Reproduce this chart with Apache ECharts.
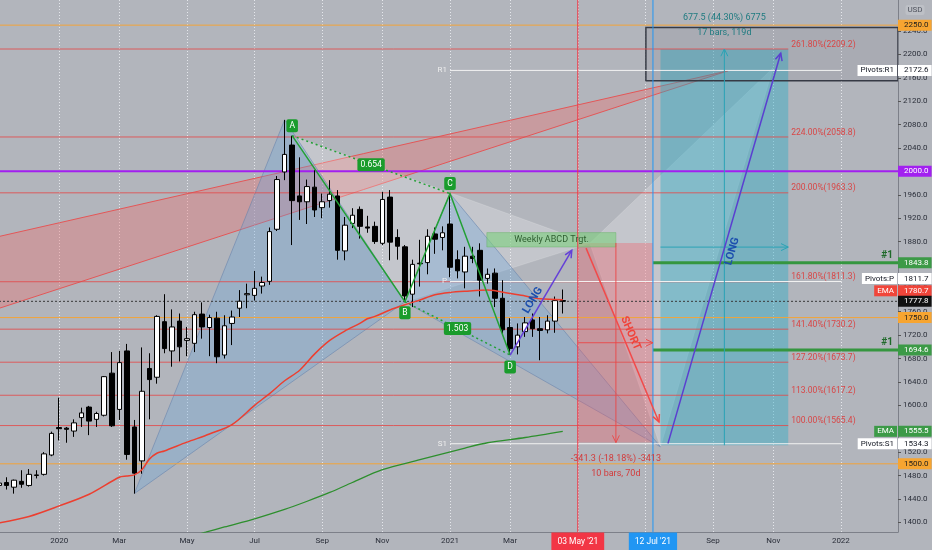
<!DOCTYPE html>
<html><head><meta charset="utf-8">
<script src="https://cdn.jsdelivr.net/npm/echarts@6/dist/echarts.min.js"></script>
<style>html,body{margin:0;padding:0;background:#b2b5bc;}#c{width:932px;height:550px;}</style>
</head><body><div id="c"></div>
<script>
// ---------- data (weeks counted from the week of 2020-01-06) ----------
const firstWeek = -8;
// [open, close, low, high] per weekly bar
const candles = [
[1463,1467,1457,1473],[1468,1463,1456,1477],[1460,1472,1449,1473],[1470,1465,1459,1489],
[1463,1482,1461,1491],[1480,1481,1475,1489],[1482,1517,1480,1520],[1515,1552,1513,1555],
[1562,1560,1540,1613],[1561,1559,1536,1563],[1556,1570,1546,1576],[1579,1587,1563,1596],
[1597,1573,1549,1599],[1576,1586,1563,1589],[1583,1649,1581,1650],[1655,1565,1563,1691],
[1593,1673,1575,1693],[1693,1516,1507,1705],[1563,1484,1449,1575],[1505,1624,1483,1699],
[1663,1644,1576,1689],[1648,1752,1637,1754],[1743,1697,1689,1790],[1693,1734,1666,1764],
[1744,1700,1675,1757],[1711,1714,1684,1734],[1706,1755,1691,1760],[1756,1734,1714,1776],
[1733,1750,1684,1755],[1749,1683,1672,1760],[1686,1736,1680,1754],[1740,1751,1703,1762],
[1766,1778,1751,1797],[1789,1791,1766,1808],[1788,1800,1779,1830],[1804,1810,1791,1820],
[1812,1897,1806,1904],[1901,1986,1898,1992],[1999,2029,1985,2088],[2045,1950,1874,2061],
[1958,1948,1917,2024],[1948,1974,1910,1986],[1973,1934,1922,2002],[1938,1948,1920,1962],
[1950,1961,1938,1985],[1958,1865,1849,1968],[1864,1908,1848,1922],[1911,1925,1903,1937],
[1935,1906,1885,1940],[1905,1903,1895,1924],[1906,1880,1876,1914],[1877,1952,1874,1965],
[1956,1879,1848,1968],[1887,1872,1849,1901],[1871,1787,1777,1874],[1790,1841,1768,1849],
[1843,1842,1803,1883],[1844,1889,1824,1901],[1893,1884,1859,1904],[1887,1895,1865,1906],
[1910,1836,1819,1962],[1849,1830,1817,1865],[1828,1855,1800,1871],[1855,1851,1843,1871],
[1865,1814,1786,1877],[1817,1824,1808,1834],[1826,1783,1768,1834],[1783,1729,1720,1814],
[1733,1697,1686,1749],[1700,1720,1687,1740],[1726,1741,1717,1751],[1746,1731,1717,1757],
[1731,1728,1677,1751],[1729,1744,1723,1754],[1744,1779,1724,1786],[1779,1778,1757,1798]
];
const emaRedWeeks = [-8,-4,0,4,8,9,10,11,12,13,14,17,20,23,26,28,30,32,34,36,38,40,41,42,44,46,47,48,50,52,54,57,60,62,64,67];
const emaRedVals  = [1399,1410,1428,1448,1477,1479,1481,1490,1508,1518,1522,1537,1551,1567,1600,1620,1642,1660,1688,1711,1727,1740,1748,1752,1763,1772,1776,1780,1789,1793,1795,1797,1791,1787,1782,1780.7];
const emaGreenWeeks = [17.5,19.5,22,26,30,33,36,39,43,48,54,57,62,67];
const emaGreenVals  = [1376,1383,1392,1406,1422,1436,1451,1468,1490,1507,1527,1536,1545,1555.5];
const xTickWeeks  = [0,8,17,26,35,43,52,60,69,78,87,95,104];
const xTickLabels = ['2020','Mar','May','Jul','Sep','Nov','2021','Mar','May','Jul','Sep','Nov','2022'];
const xLabelWeeks = [0,8,17,26,35,43,52,60,87,95,104];
const yTicks = [1400,1440,1480,1520,1560,1600,1640,1680,1720,1760,1800,1840,1880,1920,1960,2000,2040,2080,2120,2160,2200,2240];
const fibLevels = [2209.2,2058.8,1963.3,1811.3,1730.2,1673.7,1617.2,1565.4];
const fibPct    = ['261.80%','224.00%','200.00%','161.80%','141.40%','127.20%','113.00%','100.00%'];
const pivotNames = ['R1','P','S1'];
const pivotVals  = [2172.6,1811.7,1534.3];
const roundLevels = [2250,1750,1500];
const purpleLevel = 2000;
const targetLevels = [1843.8,1694.6];
const lastPrice = 1777.8;
const emaRedLast = 1780.7, emaGreenLast = 1555.5;
// pattern points [week, price]
const ptA=[31,2061], ptB=[46,1777], ptC=[52,1962], ptD=[60,1686];
const ptX=[10,1449], ptA2=[30,2088], ptD2=[80,1529];
const ptT=[70.6,1877], ptW=[95,2177];
const shortRange = {w0:69, w1:79, top:1877.6, bot:1536.3};
const longRange  = {w0:80, w1:97, top:2209.2, bot:1531.7};
const dateMarks = [{w:69, text:"03 May '21", color:'#f23645'},{w:79, text:"12 Jul '21", color:'#2196f3'}];

const X_MIN=-8, X_MAX=111.6, Y_MIN=1383.4, Y_MAX=2293;
const FONT='Roboto, "Liberation Sans", sans-serif';

// ---------- shapes ----------
const polys = [
 {pts:[[-12,1877],[89,2172],[-12,1749]], fill:'rgba(240,105,105,0.35)', stroke:'rgba(232,78,78,0.9)', lw:1},
 {pts:[ptA,ptB,ptT], fill:'rgba(255,255,255,0.24)', stroke:'rgba(255,255,255,0.25)', lw:0.6},
 {pts:[ptT,ptD2,ptW], fill:'rgba(255,255,255,0.24)', stroke:'rgba(255,255,255,0.25)', lw:0.6},
 {pts:[ptX,ptA2,ptB], fill:'rgba(105,165,220,0.32)', stroke:'rgba(100,130,170,0.7)', lw:0.8},
 {pts:[ptB,ptC,ptD2], fill:'rgba(105,165,220,0.32)', stroke:'rgba(100,130,170,0.7)', lw:0.8},
 {pts:[[shortRange.w0,shortRange.top],[shortRange.w1,shortRange.top],[shortRange.w1,shortRange.bot],[shortRange.w0,shortRange.bot]], fill:'rgba(245,85,95,0.32)', stroke:'none', lw:0},
 {pts:[[longRange.w0,longRange.top],[longRange.w1,longRange.top],[longRange.w1,longRange.bot],[longRange.w0,longRange.bot]], fill:'rgba(40,172,198,0.42)', stroke:'none', lw:0},
 {pts:[[56.9,1895.3],[74.07,1895.3],[74.07,1870.7],[56.9,1870.7]], fill:'rgba(125,208,125,0.6)', stroke:'rgba(90,170,90,0.6)', lw:0.6},
 {pts:[[78.06,2246],[X_MAX,2246],[X_MAX,2155],[78.06,2155]], fill:'rgba(70,70,80,0.08)', stroke:'#363a45', lw:1.5}
];

const hlines = [];
roundLevels.forEach(v=>hlines.push({pts:[[X_MIN,v],[X_MAX,v]], color:'#f2a43a', w:1}));
fibLevels.forEach(v=>hlines.push({pts:[[X_MIN,v],[longRange.w1,v]], color:'rgba(226,76,76,0.85)', w:1}));
pivotVals.forEach(v=>hlines.push({pts:[[52,v],[104.1,v]], color:'#f2f2f2', w:1}));
hlines.push({pts:[[X_MIN,purpleLevel],[X_MAX,purpleLevel]], color:'#a21ff0', w:2});
targetLevels.forEach(v=>hlines.push({pts:[[79,v],[X_MAX,v]], color:'#35963f', w:3}));
hlines.push({pts:[[X_MIN,lastPrice],[X_MAX,lastPrice]], color:'#3a3a3a', w:1, dash:[2,2]});
dateMarks.forEach(d=>hlines.push({pts:[[d.w,Y_MIN],[d.w,Y_MAX]], color:d.color, w:1}));

const plines = [
 {pts:[ptA,ptB,ptC,ptD], color:'#22a035', w:1.5},
 {pts:[ptA,ptC], color:'#22a035', w:1.5, dash:[2,3]},
 {pts:[ptB,ptD], color:'#22a035', w:1.5, dash:[2,3]},
 {pts:[[74.07,shortRange.top],[74.07,shortRange.bot]], color:'rgba(235,70,70,0.9)', w:1, arrow:true},
 {pts:[[shortRange.w0,1707],[shortRange.w1,1707]], color:'rgba(235,70,70,0.9)', w:1, arrow:true},
 {pts:[[88.5,longRange.bot],[88.5,longRange.top]], color:'#2aa3b5', w:1, arrow:true},
 {pts:[[longRange.w0,1870.5],[longRange.w1,1870.5]], color:'#2aa3b5', w:1, arrow:true},
 {pts:[ptD,[68.2,1865]], color:'#6440d8', w:1.5, arrow:true},
 {pts:[[70.1,1868.8],[79.8,1571.6]], color:'#f24a4a', w:1.5, arrow:true},
 {pts:[[81,1535],[96,2202]], color:'#5a3fd0', w:1.5, arrow:true}
];

// ---------- texts ----------
const labels = [];
const annot = (at,text,o)=>labels.push(Object.assign({at,text,align:'center',va:'middle',dx:0,dy:0,color:'#222',font:'9px '+FONT},o));
annot([88.5,longRange.top],'677.5 (44.30%) 6775',{dy:-31,color:'#1f7b80'});
annot([88.5,longRange.top],'17 bars, 119d',{dy:-16,color:'#1f7b80'});
annot([74.07,shortRange.bot],'-341.3 (-18.18%) -3413',{dy:16,color:'#d33a3a'});
annot([74.07,shortRange.bot],'10 bars, 70d',{dy:31.5,color:'#d33a3a'});
fibLevels.forEach((v,i)=>annot([longRange.w1,v],fibPct[i]+'('+v.toFixed(1)+')',{align:'left',va:'bottom',dx:3,dy:0,color:'#d94646',font:'8.5px '+FONT}));
pivotVals.forEach((v,i)=>annot([52,v],pivotNames[i],{align:'right',dx:-3,color:'#eeeeee',font:'8px '+FONT}));
targetLevels.forEach(v=>annot([X_MAX,v],'#1',{align:'right',va:'bottom',dx:-5,dy:-2,color:'#1f6a2a',font:'bold 10px '+FONT}));
annot([65.5,1883],'Weekly ABCD Trgt.',{color:'#2e5e30',font:'9px '+FONT});
const gBox = {bg:'#1a9c2c',color:'#ffffff',pad:[2,3],radius:2,font:'8.5px '+FONT};
annot(ptA,'A',Object.assign({dy:-10},gBox));
annot(ptB,'B',Object.assign({dy:11},gBox));
annot(ptC,'C',Object.assign({dy:-10},gBox));
annot(ptD,'D',Object.assign({dy:12},gBox));
annot([(ptA[0]+ptC[0])/2,(ptA[1]+ptC[1])/2],'0.654',gBox);
annot([(ptB[0]+ptD[0])/2,(ptB[1]+ptD[1])/2],'1.503',gBox);
annot([63.03,1779.6],'LONG',{rot:59.2,color:'#1c4fae',font:'bold 11px '+FONT});
annot([76.0,1723.1],'SHORT',{rot:-67.2,color:'#f0433a',font:'bold 11px '+FONT});
annot([89.56,1863.3],'LONG',{rot:73.8,color:'#1c4fae',font:'bold 11px '+FONT});
// price tags on the axis
const tagFont = '8px '+FONT;
const rTag=(p,text,bg,color)=>annot([X_MAX,p],text,{align:'left',dx:0,bg,color,pad:[1.5,3,1.5,6],font:tagFont});
const lTag=(p,text,bg,color)=>annot([X_MAX,p],text,{align:'right',dx:-1,bg,color,pad:[1.5,3],font:tagFont});
rTag(2250,'2250.0','#f7a531','#1b1b1b');
rTag(pivotVals[0],pivotVals[0].toFixed(1),'#ffffff','#131722'); lTag(pivotVals[0],'Pivots:R1','#ffffff','#131722');
rTag(purpleLevel,'2000.0','#a21ff0','#ffffff');
rTag(targetLevels[0],targetLevels[0].toFixed(1),'#3c9a47','#ffffff');
rTag(1816.7,pivotVals[1].toFixed(1),'#ffffff','#131722'); lTag(1816.7,'Pivots:P','#ffffff','#131722');
rTag(1795.8,emaRedLast.toFixed(1),'#f0453a','#ffffff'); lTag(1795.8,'EMA','#f0453a','#ffffff');
rTag(lastPrice,lastPrice.toFixed(1),'#111111','#ffffff');
rTag(1750,'1750.0','#f7a531','#1b1b1b');
rTag(targetLevels[1],targetLevels[1].toFixed(1),'#3c9a47','#ffffff');
rTag(emaGreenLast,emaGreenLast.toFixed(1),'#3c9a47','#ffffff'); lTag(emaGreenLast,'EMA','#3c9a47','#ffffff');
rTag(pivotVals[2],pivotVals[2].toFixed(1),'#ffffff','#131722'); lTag(pivotVals[2],'Pivots:S1','#ffffff','#131722');
rTag(1500,'1500.0','#f7a531','#1b1b1b');
dateMarks.forEach(d=>annot([d.w,Y_MIN],d.text,{va:'top',dy:0.5,bg:d.color,color:'#ffffff',pad:[4.5,6],font:'8.5px '+FONT}));
annot([X_MAX,Y_MAX],'USD',{dx:17,dy:10,color:'#50535e',font:'8px '+FONT,bg:'rgba(255,255,255,0.15)',pad:[1,2],radius:2});

// ---------- render helpers ----------
const dummy = arr => arr.map(()=>[0,1800]);
function polyRender(params, api){
  const p = polys[params.dataIndex];
  return {type:'polygon', shape:{points:p.pts.map(q=>api.coord(q))}, style:{fill:p.fill, stroke:p.stroke, lineWidth:p.lw}};
}
function lineRender(items){
  return function(params, api){
    const it = items[params.dataIndex];
    const pts = it.pts.map(q=>api.coord(q));
    const children = [{type:'polyline', shape:{points:pts}, style:{stroke:it.color, lineWidth:it.w, lineDash:it.dash||null, fill:'none'}}];
    if (it.arrow){
      const a=pts[pts.length-2], b=pts[pts.length-1];
      const th=Math.atan2(b[1]-a[1], b[0]-a[0]), L=8, al=0.45;
      children.push({type:'polyline', shape:{points:[[b[0]-L*Math.cos(th-al), b[1]-L*Math.sin(th-al)], b, [b[0]-L*Math.cos(th+al), b[1]-L*Math.sin(th+al)]]}, style:{stroke:it.color, lineWidth:it.w, fill:'none'}});
    }
    return {type:'group', children};
  };
}
function textRender(params, api){
  const t = labels[params.dataIndex];
  const p = api.coord(t.at);
  const style = {text:t.text, fill:t.color, font:t.font, align:t.align, verticalAlign:t.va};
  if (t.bg){ style.backgroundColor=t.bg; style.padding=t.pad||[1,3]; if(t.radius) style.borderRadius=t.radius; }
  return {type:'text', x:p[0]+t.dx, y:p[1]+t.dy, rotation:(t.rot||0)*Math.PI/180, style};
}

const chart = echarts.init(document.getElementById('c'), null, {renderer:'canvas'});
chart.setOption({
  animation:false,
  backgroundColor:'#b2b5bc',
  textStyle:{fontFamily:FONT},
  grid:{left:-1, right:34, top:0, bottom:18, outerBoundsMode:'none'},
  xAxis:{type:'value', min:X_MIN, max:X_MAX,
    axisLine:{show:true, onZero:false, lineStyle:{color:'#7d8089'}},
    axisTick:{show:false, customValues:xTickWeeks},
    axisLabel:{customValues:xLabelWeeks, formatter:v=>{const k=xTickWeeks.indexOf(v);return k>=0?xTickLabels[k]:'';}, color:'#2a2e39', fontSize:8, fontFamily:FONT, margin:5},
    splitLine:{show:true, lineStyle:{color:'rgba(232,234,238,0.95)', type:[1,2], width:1}}},
  yAxis:{type:'value', position:'right', min:Y_MIN, max:Y_MAX,
    axisLine:{show:true, onZero:false, lineStyle:{color:'#7d8089'}},
    axisTick:{show:true, length:3, customValues:yTicks, lineStyle:{color:'#555'}},
    axisLabel:{customValues:yTicks, formatter:v=>v.toFixed(1), color:'#2a2e39', fontSize:8, fontFamily:FONT, margin:5},
    splitLine:{show:false}},
  series:[
    {type:'custom', name:'shapes', z:1, clip:true, silent:true, data:dummy(polys), renderItem:polyRender},
    {type:'custom', name:'levels', z:2, clip:true, silent:true, data:dummy(hlines), renderItem:lineRender(hlines)},
    {type:'candlestick', name:'Gold weekly', z:3, barWidth:5,
      encode:{x:0, y:[1,2,3,4]},
      data:candles.map((c,k)=>[firstWeek+k, c[0], c[1], c[2], c[3]]),
      itemStyle:{color:'#ffffff', color0:'#000000', borderColor:'#000000', borderColor0:'#000000', borderWidth:1}},
    {type:'line', name:'EMA', z:4, symbol:'none', smooth:0.3, data:emaRedWeeks.map((w,i)=>[w,emaRedVals[i]]), lineStyle:{color:'#ec3f30', width:1.5}},
    {type:'line', name:'EMA 2', z:4, symbol:'none', smooth:0.3, data:emaGreenWeeks.map((w,i)=>[w,emaGreenVals[i]]), lineStyle:{color:'#2d8f2d', width:1.3}},
    {type:'custom', name:'drawings', z:5, clip:true, silent:true, data:dummy(plines), renderItem:lineRender(plines)},
    {type:'custom', name:'texts', z:10, clip:false, silent:true, data:dummy(labels), renderItem:textRender}
  ]
});
</script></body></html>
